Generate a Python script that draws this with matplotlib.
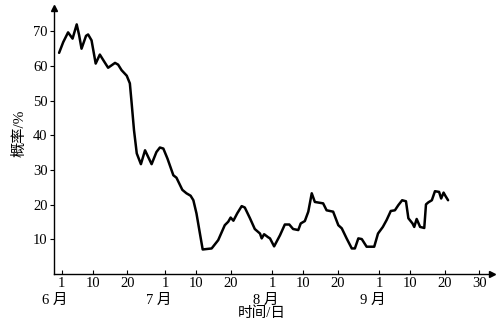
import matplotlib.pyplot as plt

plt.rcParams['font.family'] = ['Liberation Serif', 'Noto Sans CJK SC']

# days counted from 1 June (0 = June 1)
days = [-0.8, 0.4, 1.8, 3.1, 4.3, 5.0, 5.7, 7.0, 7.6, 8.6, 9.8, 11.0, 12.0, 13.4,
        15.4, 16.3, 17.3, 18.8, 19.7, 20.2, 20.9, 21.7, 22.9, 24.1, 26.0, 27.4,
        28.4, 29.4, 30.6, 32.3, 33.2, 34.9, 36.1, 37.3, 38.1, 39.0, 40.0, 40.8,
        43.4, 45.3, 47.2, 48.2, 48.9, 49.7, 50.8, 52.1, 53.0, 54.5, 55.9, 57.4,
        57.9, 58.6, 59.8, 60.3, 61.5, 63.2, 64.6, 65.9, 67.0, 68.5, 69.2, 70.4,
        71.4, 72.4, 73.3, 75.7, 76.7, 78.6, 80.1, 81.1, 82.5, 84.0, 84.9, 85.9,
        86.9, 88.3, 90.5, 91.6, 93.0, 94.1, 95.3, 96.5, 97.5, 98.6, 99.7, 100.4,
        101.6, 102.1, 102.8, 103.8, 105.0, 105.5, 106.2, 107.2, 108.1, 109.3,
        109.9, 110.6, 111.1, 111.9]
prob = [63.8, 66.9, 69.7, 67.9, 72.0, 68.9, 65.0, 68.7, 69.1, 67.4, 60.7, 63.3, 61.7, 59.5,
        60.9, 60.4, 58.8, 57.2, 55.0, 49.5, 41.5, 34.8, 31.7, 35.7, 31.7, 35.2,
        36.5, 36.2, 33.3, 28.5, 27.8, 24.3, 23.3, 22.6, 21.3, 17.5, 11.7, 7.1,
        7.4, 9.8, 14.1, 15.1, 16.3, 15.4, 17.5, 19.6, 19.2, 16.1, 13.0, 11.7,
        10.3, 11.5, 10.6, 10.3, 8.0, 11.2, 14.3, 14.3, 13.0, 12.7, 14.6, 15.3,
        18.0, 23.3, 20.8, 20.4, 18.4, 18.0, 14.1, 13.2, 10.3, 7.4, 7.4, 10.3,
        10.1, 7.9, 7.9, 11.7, 13.6, 15.6, 18.2, 18.4, 19.9, 21.3, 21.0, 16.1,
        14.6, 13.6, 15.9, 13.6, 13.3, 20.1, 20.7, 21.3, 23.9, 23.7,
        21.8, 23.5, 22.6, 21.3]

tick_pos = [0, 9, 19, 30, 39, 49, 61, 70, 80, 92, 101, 111, 121]
tick_lab = ['1', '10', '20', '1', '10', '20', '1', '10', '20', '1', '10', '20', '30']
month_start = [0, 30, 61, 92]
month_lab = ['6 月', '7 月', '8 月', '9 月']

fig = plt.figure(figsize=(5.04, 3.24), dpi=100)
ax = fig.add_axes([0.107, 0.154, 0.869, 0.821])
ax.plot(days, prob, color='black', lw=1.8, solid_joinstyle='round', solid_capstyle='round')

ax.set_xlim(-2.3, 124.6)
ax.set_ylim(0, 76.7)
ax.set_yticks([10, 20, 30, 40, 50, 60, 70])
ax.set_xticks(tick_pos)
ax.set_xticklabels(tick_lab)
ax.tick_params(axis='y', direction='out', length=3, width=0.8, labelsize=10.5, pad=1.5)
ax.tick_params(axis='x', direction='in', length=3, width=0.8, labelsize=10.5, pad=2)
for s in ['top', 'right']:
    ax.spines[s].set_visible(False)
for s in ['left', 'bottom']:
    ax.spines[s].set_linewidth(1.0)

# axis arrows
ax.plot(1, 0, '>k', ms=4, transform=ax.transAxes, clip_on=False)
ax.plot(0, 1, '^k', ms=4, transform=ax.transAxes, clip_on=False)

trans = ax.get_xaxis_transform()
for m, lab in zip(month_start, month_lab):
    ax.text(m - 2, -0.098, lab, transform=trans, ha='center', va='center', fontsize=10.5)
ax.text(0.475, -0.147, '时间/日', transform=ax.transAxes, ha='center', va='center', fontsize=10.5)
fig.text(0.038, 0.59, '概率/%', rotation=90, ha='center', va='center', fontsize=11)

fig.savefig('out.png', dpi=100)
